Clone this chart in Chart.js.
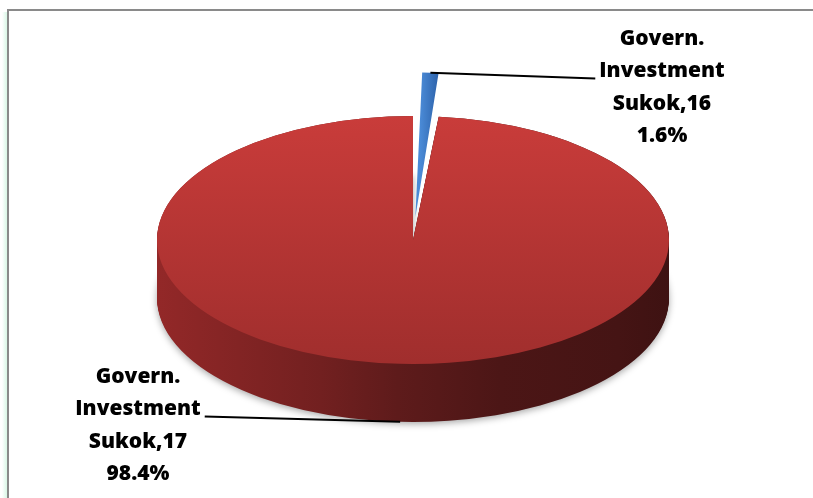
<!DOCTYPE html>
<html>
<head>
<meta charset="utf-8">
<script src="https://cdn.jsdelivr.net/npm/chart.js@4.4.1/dist/chart.umd.min.js"></script>
<style>
  body { margin: 0; background: #fff; }
  #wrap { position: relative; width: 813px; height: 498px; overflow: hidden; }
  #frame { position: absolute; left: 7px; top: 9px; right: -10px; bottom: -10px;
           border-top: 2px solid #8a8a8a; border-left: 2px solid #8a8a8a; }
  #glow { position: absolute; left: 2px; top: 12px; width: 5px; bottom: 0;
          background: linear-gradient(to right, rgba(255,255,255,0), rgba(190,240,212,0.6)); }
  canvas { position: absolute; left: 0; top: 0; }
</style>
</head>
<body>
<div id="wrap">
  <div id="glow"></div>
  <div id="frame"></div>
  <canvas id="pie" width="813" height="498"></canvas>
</div>
<script>
// data
const categories = ['Govern. Investment Sukok,16', 'Govern. Investment Sukok,17'];
const shares = [1.6, 98.4];

// look
const topColors = [['#4a8ad6', '#2a5ea6'], ['#c93c3a', '#a02e2d']];
const sideStops = [[0, '#932828'], [0.32, '#722020'], [0.47, '#5e1b1b'], [0.67, '#4c1616'], [0.9, '#451414'], [1, '#3e1212']];
const tilt = 0.484;   // ellipse squash
const depth = 58;     // thickness of the pie, px
const labelSpots = [{x: 662, y: 45, side: 'left'}, {x: 138, y: 383, side: 'right'}];
const lineStep = 32.4;

function facesFront(arc) {
  for (let a = arc.startAngle; a <= arc.endAngle; a += 0.02) {
    if (Math.sin(a) > 0.05) return true;
  }
  return false;
}

// squash the pie into an ellipse and give it a side wall
const pie3d = {
  id: 'pie3d',
  beforeDatasetsDraw(chart) {
    const ctx = chart.ctx;
    const arcs = chart.getDatasetMeta(0).data;
    const cx = arcs[0].x, cy = arcs[0].y;
    ctx.save();
    ctx.translate(0, cy);
    ctx.scale(1, tilt);
    ctx.translate(0, -cy);
    arcs.forEach(arc => {
      if (!facesFront(arc)) return;
      const grad = ctx.createLinearGradient(cx - arc.outerRadius, 0, cx + arc.outerRadius, 0);
      sideStops.forEach(s => grad.addColorStop(s[0], s[1]));
      const fake = Object.create(arc);
      Object.defineProperty(fake, 'options', {
        value: Object.assign({}, arc.options, {backgroundColor: grad, borderWidth: 0}),
        writable: true
      });
      for (let s = depth; s >= 0; s--) {
        ctx.save();
        if (s === depth) {
          ctx.shadowColor = 'rgba(0,0,0,0.35)';
          ctx.shadowBlur = 7;
          ctx.shadowOffsetY = 2;
        }
        ctx.translate(0, s / tilt);
        arc.draw.call(fake, ctx);
        ctx.restore();
      }
    });
  },
  afterDatasetsDraw(chart) {
    chart.ctx.restore();
  }
};

// callout labels with leader lines
const callouts = {
  id: 'callouts',
  afterDraw(chart) {
    const ctx = chart.ctx;
    const arcs = chart.getDatasetMeta(0).data;
    const total = shares.reduce((a, b) => a + b, 0);
    ctx.save();
    ctx.font = '800 21px "Open Sans"';
    ctx.fillStyle = '#000';
    ctx.textAlign = 'center';
    ctx.textBaseline = 'alphabetic';
    arcs.forEach((arc, i) => {
      const spot = labelSpots[i];
      const lines = categories[i].split(' ').concat([(shares[i] / total * 100).toFixed(1) + '%']);
      lines.forEach((t, k) => ctx.fillText(t, spot.x, spot.y + k * lineStep));

      // point on the slice edge
      const mid = (arc.startAngle + arc.endAngle) / 2;
      const t = (arc.options.offset || 0) / 4;
      const fix = 1 - Math.sin(Math.min(Math.PI, arc.circumference));
      const r = arc.outerRadius + t * fix + t;
      const px = arc.x + Math.cos(mid) * r;
      let py = arc.y + Math.sin(mid) * r * tilt;
      if (Math.sin(mid) > 0) py += depth;

      const w = ctx.measureText(lines[1]).width;
      const sx = spot.side === 'left' ? spot.x - w / 2 - 4 : spot.x + w / 2 + 4;
      const sy = spot.y + lineStep + 1;
      ctx.beginPath();
      ctx.moveTo(sx, sy);
      ctx.lineTo(px, py);
      ctx.lineWidth = 2;
      ctx.strokeStyle = '#000';
      ctx.stroke();
    });
    ctx.restore();
  }
};

new Chart(document.getElementById('pie'), {
  type: 'pie',
  data: {
    labels: categories,
    datasets: [{
      data: shares,
      radius: 256,
      borderWidth: 0,
      offset: [190, 0],
      backgroundColor(c) {
        const area = c.chart.chartArea;
        const cols = topColors[c.dataIndex];
        if (!area) return cols[0];
        const cx = (area.left + area.right) / 2;
        const cy = (area.top + area.bottom) / 2;
        let g;
        if (c.dataIndex === 0) {
          g = c.chart.ctx.createLinearGradient(cx + 5, 0, cx + 25, 0);
        } else {
          g = c.chart.ctx.createLinearGradient(0, cy - 256, 0, cy + 256);
        }
        g.addColorStop(0, cols[0]);
        g.addColorStop(1, cols[1]);
        return g;
      }
    }]
  },
  options: {
    responsive: false,
    animation: false,
    events: [],
    layout: { padding: { left: 13, right: 0, top: 0, bottom: 18 } },
    plugins: {
      legend: { display: false },
      tooltip: { enabled: false }
    }
  },
  plugins: [pie3d, callouts]
});
</script>
</body>
</html>
